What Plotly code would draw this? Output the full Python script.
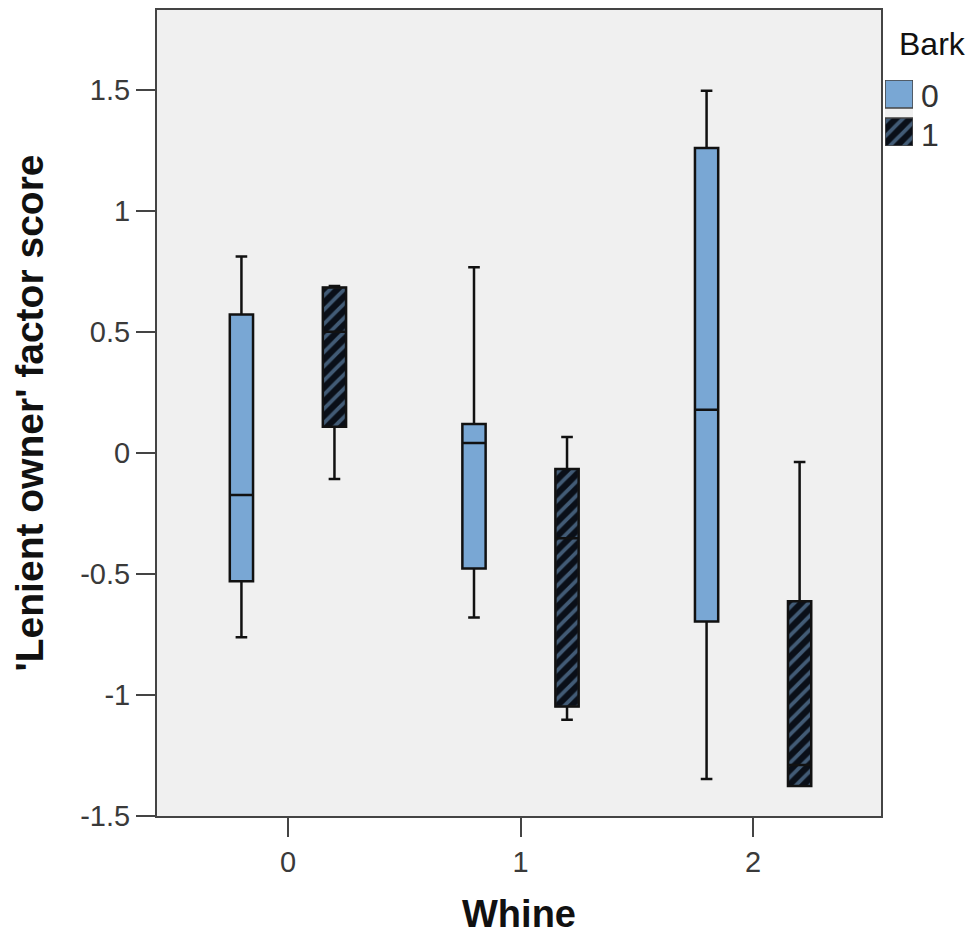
import plotly.graph_objects as go

whine = [0, 1, 2]
whine_labels = ["0", "1", "2"]
offset = 0.2

# Bark = 0
b0_low = [-0.762, -0.680, -1.347]
b0_q1 = [-0.530, -0.477, -0.696]
b0_med = [-0.174, 0.041, 0.178]
b0_q3 = [0.572, 0.120, 1.260]
b0_high = [0.812, 0.767, 1.496]

# Bark = 1
b1_low = [-0.108, -1.102, -1.376]
b1_q1 = [0.108, -1.048, -1.376]
b1_med = [0.501, -0.352, -1.289]
b1_q3 = [0.684, -0.066, -0.613]
b1_high = [0.690, 0.066, -0.037]

ytick_vals = [-1.5, -1, -0.5, 0, 0.5, 1, 1.5]
ytick_text = ["-1.5", "-1", "-0.5", "0", "0.5", "1", "1.5"]

legend_title = "Bark"
legend_labels = ["0", "1"]

blue = "#79a7d4"
dark = "#0a0f18"
FONT = "Liberation Sans, Arial, sans-serif"
hatch = dict(shape="/", fgcolor=blue, bgcolor=dark, size=10, solidity=0.38)

x0 = [w - offset for w in whine]
x1 = [w + offset for w in whine]

fig = go.Figure()

# hatched fill for Bark 1 (drawn beneath its box outline)
fig.add_trace(go.Bar(
    x=x1, base=b1_q1, y=[q3 - q1 for q1, q3 in zip(b1_q1, b1_q3)],
    width=0.1, name="1", showlegend=False,
    marker=dict(color=dark, line=dict(color="#666666", width=1.5), pattern=hatch),
    hoverinfo="skip",
))

fig.add_trace(go.Box(
    x=x0, q1=b0_q1, median=b0_med, q3=b0_q3, lowerfence=b0_low, upperfence=b0_high,
    width=0.1, whiskerwidth=0.5, name="0", showlegend=False,
    fillcolor=blue, line=dict(color="#111111", width=2.5),
))

fig.add_trace(go.Box(
    x=x1, q1=b1_q1, median=b1_med, q3=b1_q3, lowerfence=b1_low, upperfence=b1_high,
    width=0.1, whiskerwidth=0.5, name="1", showlegend=False,
    fillcolor="rgba(0,0,0,0)", line=dict(color="#111111", width=2.5),
))

# legend key swatches (small auxiliary axes in the right margin)
fig.add_trace(go.Bar(
    x=[0], base=[38], y=[28], width=1, xaxis="x2", yaxis="y2", showlegend=False,
    marker=dict(color=blue, line=dict(color="#444444", width=1.5)), hoverinfo="skip",
))
fig.add_trace(go.Bar(
    x=[0], base=[0], y=[28], width=1, xaxis="x2", yaxis="y2", showlegend=False,
    marker=dict(color=dark, line=dict(color="#444444", width=1.5), pattern=hatch), hoverinfo="skip",
))

fig.update_layout(
    width=967, height=930,
    margin=dict(l=149, r=0, t=2, b=122),
    paper_bgcolor="white", plot_bgcolor="#f0f0f0",
    font=dict(family=FONT, color="#222222"),
    showlegend=False,
    barmode="overlay",
    boxmode="overlay",
    xaxis=dict(
        domain=[0, 0.8851],
        range=[-0.563, 2.55], tickvals=whine, ticktext=whine_labels,
        showgrid=False, zeroline=False, showline=True, mirror=True,
        linecolor="#444444", linewidth=2,
        ticks="outside", ticklen=19, tickwidth=2, tickcolor="#444444",
        tickfont=dict(size=29, color="#3a3a3a"),
        title=dict(text="<b>Whine</b>", font=dict(size=38, color="#111111"), standoff=24),
    ),
    yaxis=dict(
        range=[-1.5, 1.83], tickvals=ytick_vals, ticktext=ytick_text,
        showgrid=False, zeroline=False, showline=True, mirror=True,
        linecolor="#444444", linewidth=2,
        ticks="outside", ticklen=19, tickwidth=2, tickcolor="#444444",
        tickfont=dict(size=29, color="#3a3a3a"),
        title=dict(text="<b>'Lenient owner' factor score</b>", font=dict(size=39, color="#111111"), standoff=30),
    ),
    xaxis2=dict(domain=[0.8900, 0.9242], range=[-0.5, 0.5], visible=False, fixedrange=True),
    yaxis2=dict(domain=[0.8313, 0.9132], range=[0, 66], visible=False, fixedrange=True, anchor="x2"),
    annotations=[
        dict(text=legend_title, x=0.9045, y=0.9584, xref="paper", yref="paper",
             xanchor="left", yanchor="middle", showarrow=False,
             font=dict(size=32, color="#111111")),
        dict(text=legend_labels[0], x=0.9315, y=0.8933, xref="paper", yref="paper",
             xanchor="left", yanchor="middle", showarrow=False,
             font=dict(size=32, color="#333333")),
        dict(text=legend_labels[1], x=0.9315, y=0.8449, xref="paper", yref="paper",
             xanchor="left", yanchor="middle", showarrow=False,
             font=dict(size=32, color="#333333")),
    ],
)
fig.data[3].update(xaxis="x2", yaxis="y2")
fig.data[4].update(xaxis="x2", yaxis="y2")
fig.layout.xaxis2.anchor = "y2"

fig.write_html("out.html")
